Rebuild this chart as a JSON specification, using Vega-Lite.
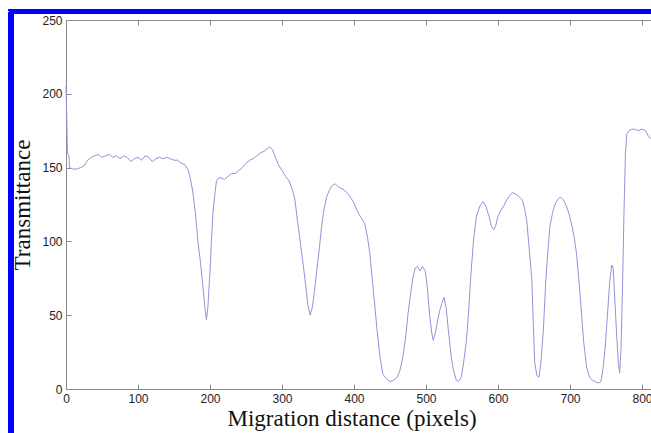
{
  "$schema": "https://vega.github.io/schema/vega-lite/v6.json",
  "width": 585,
  "height": 369,
  "autosize": {"type": "none"},
  "padding": {"left": 66, "top": 20, "right": 0, "bottom": 44},
  "background": "white",
  "config": {"view": {"stroke": null}},
  "data": {"values": [
    {"d":0,"t":205},{"d":1,"t":185},{"d":2,"t":160},{"d":4,"t":158},{"d":5,"t":150},{"d":10,"t":149},{"d":15,"t":149},{"d":20,"t":150},{"d":25,"t":151},{"d":30,"t":155},{"d":35,"t":157},{"d":40,"t":158},{"d":45,"t":159},{"d":50,"t":157},{"d":55,"t":158},{"d":60,"t":159},{"d":65,"t":157},{"d":70,"t":158},{"d":75,"t":156},{"d":80,"t":158},{"d":85,"t":157},{"d":90,"t":154},{"d":95,"t":156},{"d":100,"t":157},{"d":105,"t":155},{"d":110,"t":158},{"d":115,"t":157},{"d":120,"t":154},{"d":125,"t":156},{"d":130,"t":157},{"d":135,"t":156},{"d":140,"t":157},{"d":145,"t":156},{"d":150,"t":155},{"d":155,"t":155},{"d":160,"t":153},{"d":165,"t":152},{"d":170,"t":148},{"d":173,"t":142},{"d":176,"t":134},{"d":180,"t":118},{"d":183,"t":101},{"d":187,"t":85},{"d":190,"t":70},{"d":193,"t":55},{"d":195,"t":47},{"d":197,"t":55},{"d":200,"t":80},{"d":202,"t":100},{"d":204,"t":119},{"d":207,"t":133},{"d":209,"t":141},{"d":212,"t":143},{"d":215,"t":143},{"d":220,"t":142},{"d":225,"t":144},{"d":230,"t":146},{"d":235,"t":146},{"d":240,"t":148},{"d":245,"t":150},{"d":250,"t":153},{"d":255,"t":155},{"d":260,"t":156},{"d":265,"t":158},{"d":270,"t":160},{"d":275,"t":161},{"d":280,"t":163},{"d":283,"t":164},{"d":287,"t":162},{"d":290,"t":158},{"d":295,"t":152},{"d":300,"t":148},{"d":305,"t":144},{"d":310,"t":141},{"d":315,"t":134},{"d":318,"t":128},{"d":322,"t":112},{"d":325,"t":101},{"d":329,"t":86},{"d":332,"t":74},{"d":336,"t":57},{"d":339,"t":50},{"d":342,"t":55},{"d":345,"t":66},{"d":348,"t":79},{"d":352,"t":96},{"d":355,"t":110},{"d":358,"t":121},{"d":362,"t":130},{"d":366,"t":135},{"d":370,"t":138},{"d":374,"t":139},{"d":378,"t":137},{"d":382,"t":136},{"d":386,"t":135},{"d":390,"t":133},{"d":395,"t":130},{"d":400,"t":126},{"d":405,"t":120},{"d":410,"t":116},{"d":415,"t":112},{"d":419,"t":102},{"d":422,"t":92},{"d":425,"t":76},{"d":429,"t":56},{"d":432,"t":40},{"d":436,"t":22},{"d":440,"t":10},{"d":445,"t":7},{"d":450,"t":5},{"d":455,"t":6},{"d":460,"t":8},{"d":464,"t":13},{"d":468,"t":22},{"d":472,"t":36},{"d":475,"t":51},{"d":479,"t":66},{"d":482,"t":76},{"d":485,"t":82},{"d":488,"t":83},{"d":492,"t":80},{"d":495,"t":83},{"d":499,"t":80},{"d":502,"t":68},{"d":505,"t":50},{"d":508,"t":38},{"d":510,"t":33},{"d":513,"t":38},{"d":516,"t":46},{"d":519,"t":53},{"d":522,"t":58},{"d":525,"t":62},{"d":528,"t":55},{"d":531,"t":40},{"d":535,"t":22},{"d":538,"t":13},{"d":542,"t":6},{"d":545,"t":5},{"d":549,"t":8},{"d":552,"t":17},{"d":556,"t":32},{"d":559,"t":51},{"d":562,"t":75},{"d":566,"t":101},{"d":570,"t":117},{"d":575,"t":124},{"d":579,"t":127},{"d":583,"t":124},{"d":587,"t":118},{"d":591,"t":110},{"d":594,"t":108},{"d":597,"t":111},{"d":600,"t":117},{"d":604,"t":121},{"d":608,"t":124},{"d":612,"t":128},{"d":616,"t":131},{"d":620,"t":133},{"d":625,"t":132},{"d":630,"t":130},{"d":634,"t":128},{"d":637,"t":122},{"d":640,"t":114},{"d":643,"t":97},{"d":647,"t":74},{"d":649,"t":45},{"d":651,"t":18},{"d":654,"t":9},{"d":657,"t":8},{"d":660,"t":20},{"d":663,"t":40},{"d":666,"t":70},{"d":668,"t":85},{"d":672,"t":110},{"d":676,"t":120},{"d":680,"t":126},{"d":684,"t":129},{"d":687,"t":130},{"d":691,"t":128},{"d":695,"t":124},{"d":699,"t":118},{"d":703,"t":110},{"d":706,"t":102},{"d":709,"t":92},{"d":713,"t":70},{"d":716,"t":51},{"d":719,"t":32},{"d":723,"t":15},{"d":727,"t":8},{"d":731,"t":6},{"d":735,"t":5},{"d":739,"t":4},{"d":743,"t":5},{"d":746,"t":14},{"d":749,"t":29},{"d":752,"t":50},{"d":755,"t":72},{"d":758,"t":84},{"d":760,"t":82},{"d":762,"t":63},{"d":765,"t":35},{"d":767,"t":18},{"d":769,"t":11},{"d":771,"t":30},{"d":773,"t":70},{"d":775,"t":120},{"d":777,"t":160},{"d":779,"t":173},{"d":782,"t":175},{"d":786,"t":176},{"d":790,"t":176},{"d":795,"t":175},{"d":800,"t":176},{"d":805,"t":175},{"d":808,"t":172},{"d":811,"t":170},{"d":813,"t":170}
  ]},
  "resolve": {"axis": {"x": "independent", "y": "independent"}},
  "layer": [
    {
      "mark": {"type": "rect", "fill": null, "stroke": "#0000ff", "strokeWidth": 5, "clip": false},
      "encoding": {
        "x": {"datum": -75.7, "type": "quantitative", "scale": {"domain": [0, 812.5], "nice": false, "zero": false},
          "axis": {"orient": "top", "labels": false, "title": null, "grid": false, "domainColor": "#8a8a8a", "tickColor": "#8a8a8a", "tickSize": -5, "values": [0,100,200,300,400,500,600,700,800]}},
        "x2": {"datum": 1500},
        "y": {"datum": 255.8, "type": "quantitative", "scale": {"domain": [0, 250], "nice": false}, "axis": null},
        "y2": {"datum": -200}
      }
    },
    {
      "mark": {"type": "line", "color": "#9393d8", "strokeWidth": 1, "interpolate": "linear"},
      "encoding": {
        "x": {"field": "d", "type": "quantitative", "scale": {"domain": [0, 812.5], "nice": false, "zero": false},
          "axis": {"title": "Migration distance (pixels)", "grid": false, "values": [0,100,200,300,400,500,600,700,800],
            "domainColor": "#8a8a8a", "tickColor": "#8a8a8a", "tickSize": -5, "labelPadding": 9,
            "labelFont": "Liberation Sans", "labelFontSize": 12, "labelColor": "#222", "labelFlush": false,
            "titleFont": "Liberation Serif", "titleFontSize": 23, "titleFontWeight": "normal", "titleColor": "#111",
            "titlePadding": 3, "titleX": 285.5, "titleAnchor": "middle"}},
        "y": {"field": "t", "type": "quantitative", "scale": {"domain": [0, 250], "nice": false},
          "axis": {"title": "Transmittance", "grid": false, "values": [0,50,100,150,200,250],
            "domainColor": "#8a8a8a", "tickColor": "#8a8a8a", "tickSize": -5, "labelPadding": 9,
            "labelFont": "Liberation Sans", "labelFontSize": 12, "labelColor": "#222", "labelFlush": false,
            "titleFont": "Liberation Serif", "titleFontSize": 23, "titleFontWeight": "normal", "titleColor": "#111",
            "titlePadding": 7}}
      }
    }
  ]
}
